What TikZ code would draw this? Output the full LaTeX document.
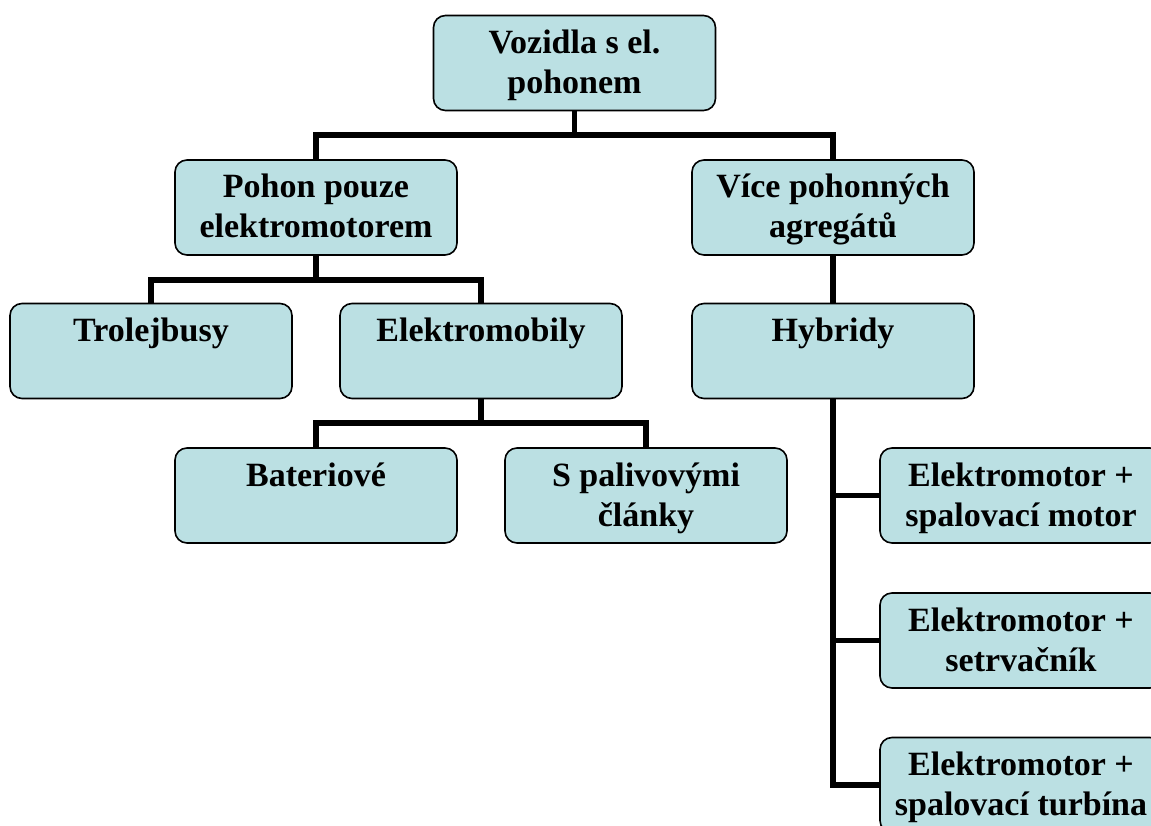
\documentclass[tikz,border=0pt]{standalone}
\usepackage{fontspec}
\setmainfont{Liberation Serif}
\usetikzlibrary{backgrounds}
\definecolor{boxfill}{RGB}{187,224,227}
\newcommand\mystrut{\rule[-9pt]{0pt}{39pt}}
\tikzset{
  box/.style={draw=black, line width=1.6pt, fill=boxfill, rounded corners=12pt,
    minimum width=282pt, minimum height=95pt, inner sep=0pt, align=center,
    font=\fontsize{34}{40}\selectfont\bfseries},
  conn/.style={draw=black, line width=5.5pt, line join=miter}
}
\begin{document}
\begin{tikzpicture}[x=1pt,y=-1pt]
\useasboundingbox (0,0) rectangle (1151,826);
\node[box] (top) at (574.5,63) {\mystrut Vozidla s el.\\\mystrut pohonem};
\node[box] (pohon) at (316,207.5) {\mystrut Pohon pouze\\\mystrut elektromotorem};
\node[box] (vice) at (833,207.5) {\mystrut Více pohonných\\\mystrut agregátů};
\node[box] (troll) at (151,351) {\mystrut Trolejbusy\\\mystrut};
\node[box] (elmob) at (481,351) {\mystrut Elektromobily\\\mystrut};
\node[box] (hyb) at (833,351) {\mystrut Hybridy\\\mystrut};
\node[box] (bat) at (316,495.5) {\mystrut Bateriové\\\mystrut};
\node[box] (pal) at (646,495.5) {\mystrut S palivovými\\\mystrut články};
\node[box] (em1) at (1021,495.5) {\mystrut Elektromotor +\\\mystrut spalovací motor};
\node[box] (em2) at (1021,640.5) {\mystrut Elektromotor +\\\mystrut setrvačník};
\node[box] (em3) at (1021,785) {\mystrut Elektromotor +\\\mystrut spalovací turbína};
\coordinate (j1) at (574.5,135);
\coordinate (j2) at (316,280);
\coordinate (j3) at (481,423);
\begin{scope}[on background layer]
\draw[conn] (top.south) -- (j1);
\draw[conn] (pohon.north) |- (j1) -| (vice.north);
\draw[conn] (pohon.south) -- (j2);
\draw[conn] (troll.north) |- (j2) -| (elmob.north);
\draw[conn] (elmob.south) -- (j3);
\draw[conn] (bat.north) |- (j3) -| (pal.north);
\draw[conn] (vice.south) -- (hyb.north);
\draw[conn] (hyb.south) |- (em3.west);
\draw[conn] (em1.west) -- (em1.west -| hyb.south);
\draw[conn] (em2.west) -- (em2.west -| hyb.south);
\end{scope}
\end{tikzpicture}
\end{document}
